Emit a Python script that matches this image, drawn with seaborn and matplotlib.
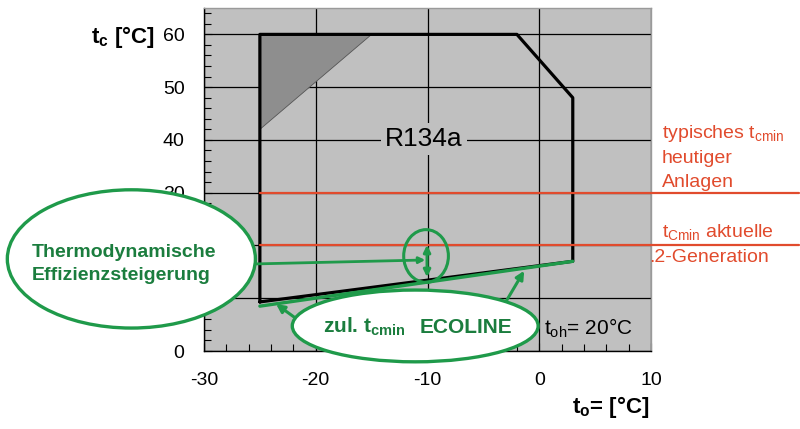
import matplotlib
matplotlib.use('Agg')
import matplotlib.pyplot as plt
from matplotlib.patches import Ellipse
from matplotlib.ticker import MultipleLocator
import seaborn as sns

# Einsatzgrenze R134a (t_o / t_c in degC)
envelope_to = [-25, -25, -2, 3, 3, -25]
envelope_tc = [9.3, 60, 60, 48, 17, 9.3]
triangle_to = [-25, -15, -25]
triangle_tc = [60, 60, 42]
ecoline_to = [-25, 3]
ecoline_tc = [8.5, 17]
tcmin_typisch = 30
tcmin_aktuell = 20
x_ticks = [-30, -20, -10, 0, 10]
y_ticks = [0, 10, 20, 30, 40, 50, 60]

GREEN = '#1F9A4A'
GREEN_TXT = '#1B7D3E'
RED = '#E14B2D'
GRAY = '#C0C0C0'

sns.set_theme(style="ticks")
plt.rcParams['font.family'] = ['Liberation Sans', 'DejaVu Sans']
plt.rcParams['mathtext.fontset'] = 'custom'
plt.rcParams['mathtext.rm'] = 'Liberation Sans'
plt.rcParams['mathtext.bf'] = 'Liberation Sans:bold'
plt.rcParams['mathtext.it'] = 'Liberation Sans:italic'
plt.rcParams['axes.unicode_minus'] = False
plt.rcParams['text.color'] = 'black'
plt.rcParams['xtick.labelcolor'] = 'black'
plt.rcParams['ytick.labelcolor'] = 'black'

fig = plt.figure(figsize=(8, 4.29), dpi=100)
ax = fig.add_axes([204 / 800, 78 / 429, 447 / 800, 343 / 429])
ax.set_facecolor(GRAY)

# dark triangle and envelope
ax.fill(triangle_to, triangle_tc, color='#8E8E8E', edgecolor='#555555', lw=0.6, zorder=2)
sns.lineplot(x=envelope_to, y=envelope_tc, sort=False, estimator=None,
             color='black', lw=2.3, ax=ax, zorder=3)
sns.lineplot(x=ecoline_to, y=ecoline_tc, sort=False, estimator=None,
             color=GREEN, lw=2.4, ax=ax, zorder=3)

# red t_cmin lines running out to the right edge
for tc in [tcmin_typisch, tcmin_aktuell]:
    ax.plot([-25, 23.2], [tc, tc], color=RED, lw=1.6, clip_on=False, zorder=3)

ax.set_xlim(-30, 10)
ax.set_ylim(0, 65)
ax.set_xticks(x_ticks)
ax.set_yticks(y_ticks)
ax.xaxis.set_minor_locator(MultipleLocator(2))
ax.yaxis.set_minor_locator(MultipleLocator(2))
ax.tick_params(which='both', direction='in', colors='black', labelcolor='black', labelsize=14)
ax.tick_params(which='major', length=6, width=0.8)
ax.tick_params(which='minor', length=5, width=0.8)
ax.tick_params(axis='y', pad=14)
ax.tick_params(axis='x', pad=15)
ax.grid(True, which='major', color='black', lw=0.9)
ax.set_axisbelow(True)
ax.set_xlabel('')
ax.set_ylabel('')
for side in ['left', 'bottom']:
    ax.spines[side].set_color('black')
    ax.spines[side].set_linewidth(1.0)
for side in ['top', 'right']:
    ax.spines[side].set_color('#9A9A9A')
    ax.spines[side].set_linewidth(1.0)

# axis titles
ax.text(-34.4, 58.4, r't$_\mathbf{c}$ [°C]', ha='right', va='baseline',
        fontsize=16, fontweight='bold', clip_on=False)
ax.text(9.9, -11.75, r't$_\mathbf{o}$= [°C]', ha='right', va='baseline',
        fontsize=16, fontweight='bold', clip_on=False)

ax.text(-10.3, 40.2, 'R134a', ha='center', va='center', fontsize=19, zorder=4,
        bbox=dict(facecolor=GRAY, edgecolor='none', pad=3))
ax.text(0.43, 3.0, r't$_\mathrm{oh}$= 20°C', ha='left', va='baseline', fontsize=15, zorder=4)

# green annotations
ax.add_patch(Ellipse((-36.5, 17.45), 22.2, 26.2, facecolor='white', edgecolor=GREEN,
                     lw=2.4, clip_on=False, zorder=6))
ax.text(-45.4, 17.8, 'Thermodynamische', ha='left', va='baseline', fontsize=14,
        fontweight='bold', color=GREEN_TXT, zorder=7, clip_on=False)
ax.text(-45.4, 13.45, 'Effizienzsteigerung', ha='left', va='baseline', fontsize=14,
        fontweight='bold', color=GREEN_TXT, zorder=7, clip_on=False)

ax.add_patch(Ellipse((-10.13, 18.0), 4.0, 10.0, facecolor='none', edgecolor=GREEN,
                     lw=2.2, zorder=5))

ax.add_patch(Ellipse((-11.1, 4.75), 22.0, 13.6, facecolor='white', edgecolor=GREEN,
                     lw=2.4, clip_on=False, zorder=6))
ax.text(-19.35, 3.4, r'zul. t$_\mathbf{cmin}$', ha='left', va='baseline', fontsize=15,
        fontweight='bold', color=GREEN_TXT, zorder=7)
ax.text(-10.67, 3.4, 'ECOLINE', ha='left', va='baseline', fontsize=15,
        fontweight='bold', color=GREEN_TXT, zorder=7)

arrow = dict(arrowstyle='-|>', color=GREEN, lw=2.2, mutation_scale=12, shrinkA=0, shrinkB=0)
ax.annotate('', xy=(-10.2, 17.25), xytext=(-25.45, 16.5),
            arrowprops=dict(arrow, lw=2.0, mutation_scale=9), annotation_clip=False, zorder=5)
ax.annotate('', xy=(-10.04, 20.1), xytext=(-10.04, 14.0),
            arrowprops=dict(arrow, arrowstyle='<|-|>', mutation_scale=10), zorder=5)
ax.annotate('', xy=(-23.55, 8.9), xytext=(-21.95, 6.45), arrowprops=arrow, zorder=5)
ax.annotate('', xy=(-1.35, 15.2), xytext=(-2.9, 9.65), arrowprops=arrow, zorder=5)

# red notes right of the chart
def px(x, y):
    return x / 800, 1 - y / 429

fig.text(*px(662, 138), r'typisches $\mathrm{t}_\mathrm{cmin}$', color=RED, fontsize=14, va='baseline')
fig.text(*px(662, 163), 'heutiger', color=RED, fontsize=14, va='baseline')
fig.text(*px(662, 187), 'Anlagen', color=RED, fontsize=14, va='baseline')
fig.text(*px(662, 237), r'$\mathrm{t}_\mathrm{Cmin}$ aktuelle', color=RED, fontsize=14, va='baseline')
fig.text(*px(649, 262), '.2-Generation', color=RED, fontsize=14, va='baseline')

fig.savefig('out.png', dpi=100)
